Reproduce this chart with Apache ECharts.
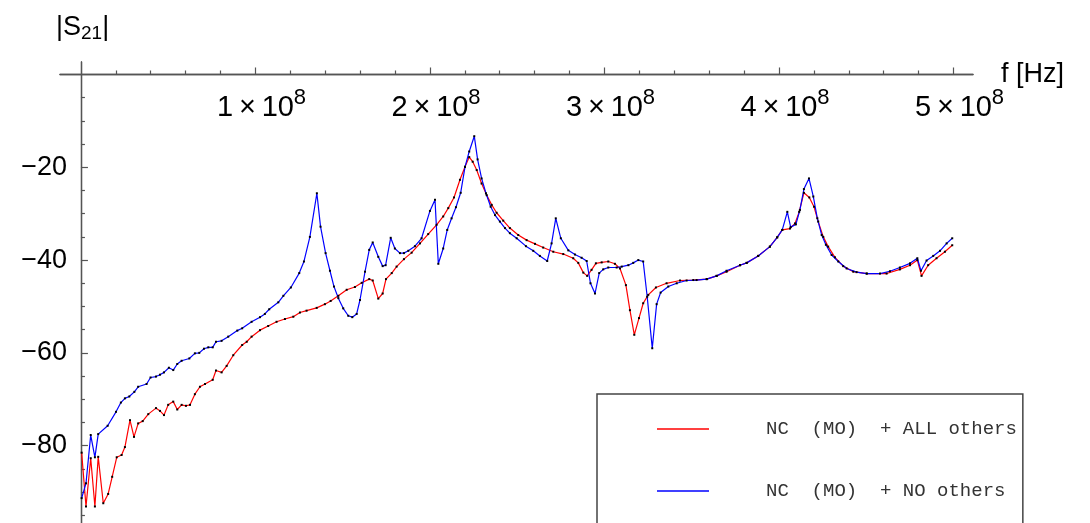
<!DOCTYPE html>
<html><head><meta charset="utf-8">
<script src="https://cdn.jsdelivr.net/npm/echarts@6/dist/echarts.min.js"></script>
<style>html,body{margin:0;padding:0;background:#fff}#c{width:1090px;height:523px}</style>
</head><body><div id="c"></div>
<script>
// Frequencies in MHz (axis unit: MHz, labels show x 10^8 Hz)
const redFreqMHz = [0.4,2.9,5.6,8.0,9.9,12.8,15.6,17.9,20.5,23.3,25.2,28.1,30.4,32.8,35.4,38.6,43.0,45.3,47.6,50.0,52.9,55.2,57.7,60.2,62.5,65.3,68.2,71.1,75.5,77.4,80.6,83.5,87.3,92.4,95.0,97.8,102.6,107.3,112.1,116.9,121.7,125.5,129.3,135.1,139.8,143.1,147.5,152.3,157.0,160.9,165.2,167.2,170.4,172.9,174.8,178.1,180.9,185.1,189.5,194.3,199.0,203.8,207.6,210.5,213.8,217.2,220.1,222.5,224.5,226.8,229.6,232.5,235.4,238.2,242.0,245.8,250.6,255.4,260.2,264.9,270.7,276.4,282.1,285.0,287.9,290.1,292.6,295.1,298.4,302.2,306.0,308.9,312.3,314.6,317.1,319.8,322.2,325.1,329.5,335.6,343.3,350.9,358.6,364.3,370.0,377.7,381.5,388.1,394.8,399.0,401.9,406.3,409.2,411.6,414.3,417.4,420.1,422.5,425.4,428.2,432.1,436.8,442.6,450.3,461.7,469.3,475.1,479.3,481.7,485.5,490.3,495.1,499.3];
const redS21 = [-81.5,-93.1,-82.7,-93.1,-82.4,-92.4,-90.4,-86.7,-82.5,-82.0,-80.3,-74.5,-78.1,-75.2,-74.7,-73.2,-71.9,-72.5,-73.4,-71.2,-70.5,-72.2,-71.2,-71.4,-71.2,-68.9,-67.3,-66.7,-65.8,-63.8,-64.2,-62.8,-60.5,-58.3,-57.6,-56.5,-55.1,-54.2,-53.3,-52.7,-52.2,-51.3,-50.9,-50.3,-49.5,-48.8,-47.7,-46.4,-45.8,-44.9,-44.1,-44.4,-48.3,-47.2,-44.1,-42.8,-41.4,-39.8,-38.4,-36.4,-34.4,-32.4,-30.6,-28.8,-26.5,-22.7,-19.9,-17.8,-18.8,-20.6,-23.5,-26.0,-28.1,-29.8,-31.5,-33.1,-34.6,-35.7,-36.5,-37.3,-38.2,-38.7,-39.6,-40.6,-42.7,-43.4,-42.1,-40.7,-40.5,-40.3,-40.8,-41.8,-45.4,-50.8,-56.1,-52.5,-49.3,-47.5,-45.9,-45.0,-44.4,-44.3,-44.1,-43.4,-42.5,-41.1,-40.6,-39.1,-37.1,-35.1,-33.5,-33.2,-32.1,-29.6,-25.5,-26.5,-28.5,-31.7,-35.0,-37.1,-39.4,-41.3,-42.5,-42.9,-42.9,-42.0,-41.1,-40.0,-43.4,-41.1,-39.6,-38.2,-36.8];

const blueFreqMHz = [0.4,2.9,5.6,8.0,9.9,15.3,20.1,22.9,25.2,27.7,30.6,32.8,37.6,39.9,43.0,45.3,47.6,50.4,52.9,55.2,57.7,62.1,65.3,67.8,70.5,73.0,75.5,77.4,80.6,84.4,89.6,92.4,97.8,102.6,105.4,107.9,113.1,116.0,120.3,125.1,127.8,131.2,135.2,137.3,140.2,142.7,145.0,147.5,150.3,153.2,155.5,158.0,159.9,162.8,165.2,167.2,170.4,172.9,174.6,177.5,179.9,182.8,185.1,187.6,191.4,195.2,200.0,202.9,204.8,207.6,209.9,212.4,214.9,217.6,220.1,222.5,225.4,227.3,229.6,232.1,234.8,237.3,240.1,243.0,245.8,249.7,255.0,259.2,263.0,267.2,269.7,272.1,275.0,279.3,283.1,286.9,289.8,292.0,294.6,297.0,299.3,302.2,307.0,309.9,313.7,316.5,319.4,322.2,324.5,327.4,329.9,332.2,336.6,341.4,347.1,352.8,358.6,364.3,370.0,377.7,381.5,388.1,394.8,399.0,401.9,404.8,406.7,409.7,412.0,414.3,417.2,419.7,422.0,424.5,426.9,430.2,434.0,438.8,444.5,450.3,457.9,463.6,469.3,475.1,479.3,481.4,484.6,488.4,492.3,496.1,499.3];
const blueS21 = [-91.3,-88.1,-77.7,-82.5,-77.5,-75.7,-72.7,-70.7,-69.8,-69.4,-68.4,-67.3,-66.7,-65.3,-65.1,-64.7,-64.2,-63.2,-63.7,-62.4,-61.7,-61.2,-60.1,-60.0,-59.1,-58.8,-58.8,-57.6,-57.4,-56.5,-55.2,-54.7,-53.3,-52.3,-51.6,-50.6,-49.1,-47.7,-45.9,-42.8,-40.3,-35.0,-25.6,-32.8,-38.5,-42.3,-45.7,-48.2,-50.4,-52.0,-52.3,-51.6,-48.6,-42.5,-37.8,-36.2,-39.3,-41.3,-41.1,-35.2,-37.5,-38.5,-38.5,-38.0,-37.0,-35.3,-29.4,-27.0,-40.8,-37.5,-33.5,-31.0,-28.6,-25.5,-19.9,-16.6,-13.3,-18.3,-22.4,-25.6,-28.5,-30.3,-31.7,-33.1,-34.2,-35.3,-37.0,-38.0,-39.1,-40.2,-36.4,-31.0,-35.3,-37.9,-38.8,-39.5,-40.2,-45.0,-47.2,-42.8,-42.0,-41.6,-41.6,-41.4,-41.1,-40.6,-40.0,-40.3,-47.9,-59.0,-49.5,-47.0,-45.7,-45.0,-44.4,-44.3,-44.1,-43.4,-42.3,-41.1,-40.6,-39.1,-37.1,-35.1,-33.5,-29.6,-32.9,-32.3,-29.2,-24.7,-22.4,-26.3,-31.0,-34.6,-36.7,-38.9,-40.3,-41.8,-42.6,-42.9,-42.9,-42.4,-41.6,-40.7,-39.6,-42.3,-40.1,-39.1,-38.0,-36.4,-35.3];

const seriesNames = ['NC  (MO)  + ALL others', 'NC  (MO)  + NO others'];
const seriesColors = ['#ff0000', '#0000ff'];
const xMajorTicks = [100, 200, 300, 400, 500];
const xTickMantissa = ['1', '2', '3', '4', '5'];
const xTickExponent = '8';
const xMinorTicks = [20,40,60,80,120,140,160,180,220,240,260,280,320,340,360,380,420,440,460,480];
const yMajorTicks = [-80, -60, -40, -20];
const yMinorTicks = [-95,-90,-85,-75,-70,-65,-55,-50,-45,-35,-30,-25,-15,-10,-5];

const pair = (fs, vs) => fs.map((f, i) => [f, vs[i]]);
const X_MIN = -12, X_MAX = 511.2, Y_MIN = -96.66, Y_MAX = 2.69;
const axisColor = '#555';

const chart = echarts.init(document.getElementById('c'), null, {renderer: 'canvas'});
chart.setOption({
  animation: false,
  backgroundColor: '#fff',
  title: {
    text: '|S{sub|21}|',
    left: 51, top: 7,
    textStyle: {
      fontFamily: 'Liberation Sans', fontSize: 27, fontWeight: 'normal', color: '#000',
      rich: { sub: { fontFamily: 'Liberation Sans', fontSize: 19, color: '#000', padding: [12, 0, 0, 0] } }
    }
  },
  grid: [
    // grid 0: full axis extents (lines + ticks, data)
    { left: 60, right: 117, top: 62, bottom: 0, containLabel: false, outerBoundsMode: 'none' },
    // grid 1: the quadrant starting at the origin (labels only)
    { left: 81, right: 117, top: 74.5, bottom: 0, containLabel: false, outerBoundsMode: 'none' }
  ],
  xAxis: [
    {
      gridIndex: 0, type: 'value', min: X_MIN, max: X_MAX, position: 'bottom',
      axisLine: { onZero: true, onZeroAxisIndex: 0, lineStyle: { color: axisColor, width: 1.3 } },
      axisTick: { show: true, inside: true, length: 7, customValues: xMajorTicks, lineStyle: { color: axisColor, width: 1.2 } },
      axisLabel: { show: false },
      splitLine: { show: false }
    },
    {
      gridIndex: 0, type: 'value', min: X_MIN, max: X_MAX, position: 'bottom',
      axisLine: { onZero: true, onZeroAxisIndex: 0, lineStyle: { color: axisColor, width: 1.3 } },
      axisTick: { show: true, inside: true, length: 4, customValues: xMinorTicks, lineStyle: { color: axisColor, width: 1.2 } },
      axisLabel: { show: false },
      splitLine: { show: false }
    },
    {
      gridIndex: 1, type: 'value', min: 0, max: X_MAX, position: 'top',
      name: 'f [Hz]', nameLocation: 'end', nameGap: 28, nameMoveOverlap: false,
      nameTextStyle: { fontFamily: 'Liberation Sans', fontSize: 27, color: '#000', align: 'left', verticalAlign: 'middle', padding: [6, 0, 0, 0] },
      axisLine: { onZero: false, show: false },
      axisTick: { show: false },
      axisLabel: {
        show: true, inside: true, margin: 12, customValues: xMajorTicks, color: '#000',
        formatter: (v) => {
          const i = xMajorTicks.indexOf(v);
          return '{p|}{b|' + xTickMantissa[i] + '\u2009×\u200910}{s|' + xTickExponent + '}';
        },
        rich: {
          p: { width: 12, height: 10 },
          b: { fontFamily: 'Liberation Sans', fontSize: 29, color: '#000', lineHeight: 36, verticalAlign: 'bottom' },
          s: { fontFamily: 'Liberation Sans', fontSize: 22, color: '#000', lineHeight: 27, verticalAlign: 'top', width: 12 }
        }
      },
      splitLine: { show: false }
    }
  ],
  yAxis: [
    {
      gridIndex: 0, type: 'value', min: Y_MIN, max: Y_MAX, position: 'left',
      axisLine: { onZero: true, onZeroAxisIndex: 0, lineStyle: { color: axisColor, width: 1.3 } },
      axisTick: { show: true, inside: true, length: 7, customValues: yMajorTicks, lineStyle: { color: axisColor, width: 1.2 } },
      axisLabel: { show: false },
      splitLine: { show: false }
    },
    {
      gridIndex: 0, type: 'value', min: Y_MIN, max: Y_MAX, position: 'left',
      axisLine: { onZero: true, onZeroAxisIndex: 0, lineStyle: { color: axisColor, width: 1.3 } },
      axisTick: { show: true, inside: true, length: 4, customValues: yMinorTicks, lineStyle: { color: axisColor, width: 1.2 } },
      axisLabel: { show: false },
      splitLine: { show: false }
    },
    {
      gridIndex: 1, type: 'value', min: Y_MIN, max: 0, position: 'left',
      axisLine: { onZero: false, show: false },
      axisTick: { show: false },
      axisLabel: {
        show: true, margin: 14, customValues: yMajorTicks, color: '#000',
        fontFamily: 'Liberation Sans', fontSize: 27,
        formatter: (v) => '\u2212' + Math.abs(v)
      },
      splitLine: { show: false }
    }
  ],
  legend: {
    orient: 'vertical', left: 597, top: 394, height: 300,
    padding: [25, 6, 45, 60],
    itemGap: 42, itemWidth: 52, itemHeight: 1.3,
    borderColor: '#444', borderWidth: 1.5, backgroundColor: '#fff',
    selectedMode: false,
    textStyle: { fontFamily: 'Liberation Mono', fontSize: 19, color: '#333', lineHeight: 20, padding: [0, 0, 0, 52] },
    data: seriesNames.map((n, i) => ({ name: n, icon: 'rect', itemStyle: { color: seriesColors[i] } }))
  },
  series: [
    {
      name: seriesNames[0], type: 'line', xAxisIndex: 0, yAxisIndex: 0,
      data: pair(redFreqMHz, redS21),
      symbol: 'rect', symbolSize: 2, showSymbol: true,
      itemStyle: { color: '#000' },
      lineStyle: { color: seriesColors[0], width: 1.2 },
      emphasis: { disabled: true }
    },
    {
      name: seriesNames[1], type: 'line', xAxisIndex: 0, yAxisIndex: 0,
      data: pair(blueFreqMHz, blueS21),
      symbol: 'rect', symbolSize: 2, showSymbol: true,
      itemStyle: { color: '#000' },
      lineStyle: { color: seriesColors[1], width: 1.2 },
      emphasis: { disabled: true }
    }
  ]
});
</script>
</body></html>
